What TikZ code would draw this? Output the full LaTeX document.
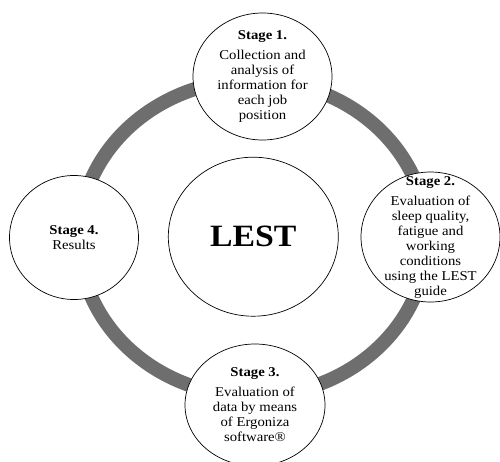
\documentclass[tikz,border=0pt]{standalone}
\usepackage{fontspec}
\setmainfont{Liberation Serif}[FakeStretch=1.09]
\usetikzlibrary{positioning}
\usetikzlibrary{shapes.geometric}
\definecolor{ringgray}{RGB}{110,110,110}

\begin{document}
\begin{tikzpicture}[x=1pt,y=-1pt]
    \tikzset{base/.style = {ellipse, draw=black, line width=0.7pt, fill=white,
                           inner sep=-20pt, align=center,
                           font=\fontsize{13.5}{15}\selectfont}}
    \tikzset{stage/.style = {base, minimum width=139pt, minimum height=127pt}}
    \tikzset{core/.style = {base, minimum width=170pt, minimum height=159pt,
                           font=\fontsize{31}{36}\selectfont\bfseries}}

    \useasboundingbox (0,0) rectangle (500,461);

    % ring behind the stages
    \draw[ringgray, line width=14pt] (253,238) ellipse [x radius=174, y radius=158];

    \node (L) [core] at (253.3,236.7) {LEST};

    \node (S1) [stage] at (262.5,76.5)
        {\textbf{Stage 1.}\\[5pt] Collection and\\ analysis of\\ information for\\ each job\\ position};
    \node (S2) [stage, minimum height=130pt] at (430.5,237)
        {\textbf{Stage 2.}\\[5pt] Evaluation of\\ sleep quality,\\ fatigue and\\ working\\ conditions\\ using the LEST\\ guide};
    \node (S3) [stage, minimum width=140pt, minimum height=122pt] at (255,405)
        {\textbf{Stage 3.}\\[5pt] Evaluation of\\ data by means\\ of Ergoniza\\ software®};
    \node (S4) [stage, minimum width=129pt, minimum height=124pt] at (74,237.5)
        {\textbf{Stage 4.}\\ Results};

\end{tikzpicture}
\end{document}
